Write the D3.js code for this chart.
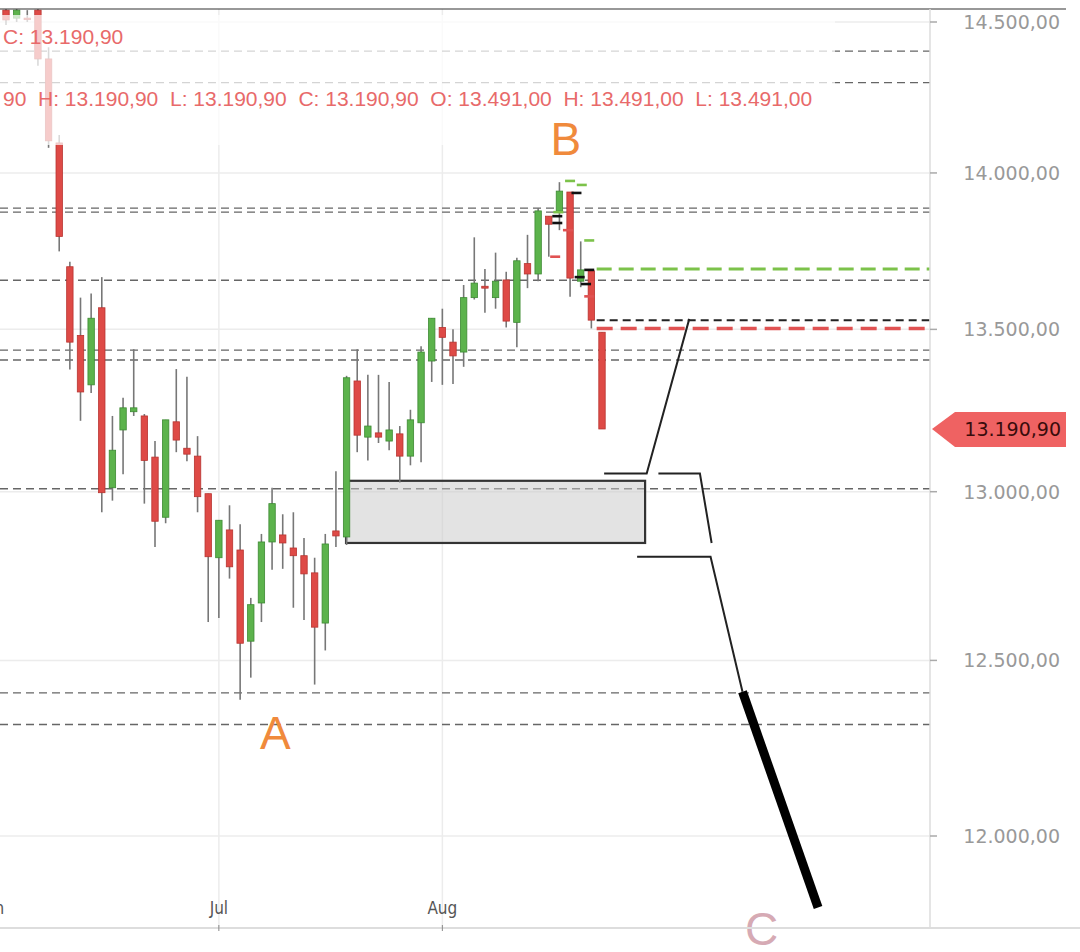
<!DOCTYPE html>
<html><head><meta charset="utf-8">
<script src="https://cdn.jsdelivr.net/npm/d3@7/dist/d3.min.js"></script>
<style>body{margin:0;background:#fff}svg{display:block}</style>
</head><body>
<svg id="c" width="1080" height="952"></svg>
<script>
// OHLC per trading day (index 0..56)
const opens  = [14540,14513,14513,14540,14376,14098,13698,13481,13327,13568,13012,13188,13244,13231,13105,12923,13213,13132,13108,12994,12802,12885,12825,12556,12668,12849,12870,12831,12808,12757,12609,12882,12864,13339,13166,13179,13154,13176,13108,13210,13401,13506,13460,13429,13600,13636,13600,13656,13522,13708,13675,13860,13877,13938,13652,13685,13491];
const highs  = [14560,14555,14540,14555,14415,14124,13714,13600,13613,13665,13231,13287,13438,13237,13154,13219,13376,13352,13169,12994,12914,12959,12902,12683,12873,13012,12932,12938,12861,12802,12873,13062,13355,13438,13358,13358,13336,13200,13250,13447,13535,13565,13500,13640,13792,13691,13743,13682,13727,13800,13886,13860,13970,13938,13779,13685,13491];
const lows   = [14490,14500,14500,14353,14082,13747,13375,13216,13302,12938,12973,13053,13231,12964,12834,12905,13120,13092,12938,12612,12624,12740,12386,12450,12612,12766,12769,12654,12618,12430,12529,12834,12840,13120,13095,13148,13126,13028,13080,13089,13336,13327,13330,13383,13594,13552,13565,13506,13444,13630,13652,13730,13815,13603,13633,13503,13191];
const closes = [14507,14540,14510,14376,14105,13795,13460,13305,13535,12997,13126,13256,13256,13095,12911,13219,13157,13114,12985,12805,12914,12775,12550,12663,12849,12964,12846,12808,12754,12597,12843,12867,13349,13172,13200,13166,13188,13108,13219,13429,13535,13475,13417,13600,13646,13630,13652,13526,13717,13675,13877,13834,13941,13662,13688,13529,13191];
const monthTicks = [{label:"Jun", i:-1.3},{label:"Jul", i:20},{label:"Aug", i:41}];
const priceTicks = [14500,14000,13500,13000,12500,12000];
const grayLevels = [14402,14297,13886,13873,13655,13435,13404,13009,12406,12315];
const colorLevels = [{p:13691,c:"#7cc24a",w:3,d:"15,7"},{p:13529,c:"#222",w:2,d:"8,5"},{p:13503,c:"#e05252",w:3.5,d:"16,8"}];
const markers = [
 {i:53.0,p:13974,c:"#7cc24a"},{i:54.1,p:13961,c:"#7cc24a"},{i:53.6,p:13935,c:"#111"},
 {i:51.9,p:13873,c:"#7cc24a"},{i:51.8,p:13860,c:"#111"},{i:51.8,p:13838,c:"#111"},
 {i:52.8,p:13815,c:"#e05252"},{i:54.8,p:13782,c:"#7cc24a"},{i:51.6,p:13730,c:"#e05252"},
 {i:53.9,p:13665,c:"#111"},{i:54.5,p:13643,c:"#111"},{i:54.8,p:13604,c:"#e05252"},{i:54.8,p:13688,c:"#111"}];
const zone = {i0:31.95, i1:60.05, p0:13033, p1:12846};
const pathA = [[56.2,13055],[60.2,13055],[64.2,13533]];
const pathB = [[61.3,13055],[65.2,13055],[66.3,12846]];
const pathC = [[59.3,12805],[66.2,12805],[69.2,12409]];
const pathD = [[69.2,12409],[76.3,11802]];
const lastPrice = "13.190,90";
const legend1 = "C: 13.190,90";
const legend2 = "90  H: 13.190,90  L: 13.190,90  C: 13.190,90  O: 13.491,00  H: 13.491,00  L: 13.491,00";
const waves = [{t:"B",i:52.6,p:14060,c:"#f08a3c"},{t:"A",i:25.3,p:12244,c:"#f08a3c"},{t:"C",i:71.0,p:11700,c:"#d6aab4"}];

const svg = d3.select("#c");
const X0=0, X1=930, Y0=9, Y1=928;
const x = d3.scaleLinear().domain([0,56]).range([6,602]);
const y = d3.scaleLog().domain([12000,14500]).range([836,22]);
const font = "'Liberation Sans', Arial, sans-serif";
const afont = "'DejaVu Sans', sans-serif";
svg.append("defs").append("clipPath").attr("id","cp").append("rect").attr("x",X0).attr("y",Y0).attr("width",X1-X0).attr("height",Y1-Y0);
const g = svg.append("g").attr("clip-path","url(#cp)");
g.selectAll(".hg").data(priceTicks).join("line").attr("x1",X0).attr("x2",X1).attr("y1",d=>y(d)).attr("y2",d=>y(d)).attr("stroke","#ececec").attr("stroke-width",1.5);
g.selectAll(".vg").data(monthTicks.slice(1)).join("line").attr("x1",d=>x(d.i)).attr("x2",d=>x(d.i)).attr("y1",Y0).attr("y2",Y1).attr("stroke","#ececec").attr("stroke-width",1.5);
g.selectAll(".gl").data(grayLevels).join("line").attr("x1",X0).attr("x2",X1).attr("y1",d=>y(d)).attr("y2",d=>y(d)).attr("stroke","#666").attr("stroke-width",1.4).attr("stroke-dasharray","8,5");
g.append("rect").attr("x",x(zone.i0)).attr("y",y(zone.p0)).attr("width",x(zone.i1)-x(zone.i0)).attr("height",y(zone.p1)-y(zone.p0)).attr("fill","rgba(200,200,200,0.5)").attr("stroke","#333").attr("stroke-width",2.2);
const idx = d3.range(opens.length);
g.selectAll(".wk").data(idx).join("line").attr("x1",i=>x(i)).attr("x2",i=>x(i)).attr("y1",i=>y(highs[i])).attr("y2",i=>y(lows[i])).attr("stroke","#777").attr("stroke-width",1.6);
g.selectAll(".bd").data(idx).join("rect")
 .attr("x",i=>x(i)-3.2).attr("width",6.4)
 .attr("y",i=>y(Math.max(opens[i],closes[i])))
 .attr("height",i=>Math.max(1.5,Math.abs(y(opens[i])-y(closes[i]))))
 .attr("fill",i=>closes[i]>=opens[i]?"#5cb34c":"#de4a46")
 .attr("stroke",i=>closes[i]>=opens[i]?"#3d8a33":"#b83430").attr("stroke-width",0.8);
g.selectAll(".cl").data(colorLevels).join("line").attr("x1",x(55.5)).attr("x2",X1).attr("y1",d=>y(d.p)).attr("y2",d=>y(d.p)).attr("stroke",d=>d.c).attr("stroke-width",d=>d.w).attr("stroke-dasharray",d=>d.d);
g.selectAll(".mk").data(markers).join("line").attr("x1",d=>x(d.i)-5).attr("x2",d=>x(d.i)+5).attr("y1",d=>y(d.p)).attr("y2",d=>y(d.p)).attr("stroke",d=>d.c).attr("stroke-width",2.6);
const ln = d3.line().x(d=>x(d[0])).y(d=>y(d[1]));
[pathA,pathB,pathC].forEach(p=>g.append("path").attr("d",ln(p)).attr("fill","none").attr("stroke","#222").attr("stroke-width",2));
svg.append("path").attr("d",ln(pathD)).attr("fill","none").attr("stroke","#000").attr("stroke-width",9);
svg.append("rect").attr("x",0).attr("y",15).attr("width",835).attr("height",130).attr("fill","#fff").attr("opacity",0.72);
svg.append("text").attr("x",3).attr("y",44).attr("font-family",font).attr("font-size",21).attr("fill","#e86a6a").text(legend1);
svg.append("text").attr("x",3).attr("y",106).attr("font-family",font).attr("font-size",21).attr("fill","#e86a6a").style("white-space","pre").text(legend2);
svg.selectAll(".wv").data(waves).join("text").attr("x",d=>x(d.i)).attr("y",d=>y(d.p)).attr("text-anchor","middle").attr("font-family",font).attr("font-size",46).attr("fill",d=>d.c).text(d=>d.t);
svg.append("line").attr("x1",0).attr("x2",1066).attr("y1",Y0).attr("y2",Y0).attr("stroke","#333").attr("stroke-width",1.2);
svg.append("line").attr("x1",X1).attr("x2",X1).attr("y1",Y0).attr("y2",Y1).attr("stroke","#ddd").attr("stroke-width",1.5);
svg.append("line").attr("x1",0).attr("x2",1080).attr("y1",Y1).attr("y2",Y1).attr("stroke","#ddd").attr("stroke-width",2);
const fmt = v=>d3.format(",.2f")(v).replace(/,/g,"#").replace(".",",").replace(/#/g,".");
svg.selectAll(".yt").data(priceTicks).join("line").attr("x1",X1).attr("x2",X1+7).attr("y1",d=>y(d)).attr("y2",d=>y(d)).attr("stroke","#aaa").attr("stroke-width",1.5);
svg.selectAll(".yl").data(priceTicks).join("text").attr("x",1060).attr("y",d=>y(d)+7).attr("text-anchor","end").attr("font-family",afont).attr("font-size",19).attr("fill","#999").text(fmt);
svg.selectAll(".xt").data(monthTicks).join("line").attr("x1",d=>x(d.i)).attr("x2",d=>x(d.i)).attr("y1",Y1-3).attr("y2",Y1+3).attr("stroke","#888");
svg.selectAll(".xl").data(monthTicks).join("text").attr("x",d=>x(d.i)).attr("y",914).attr("text-anchor","middle").attr("font-family","'DejaVu Sans Condensed','Liberation Sans Narrow',sans-serif").attr("font-size",17).attr("fill","#555").text(d=>d.label);
const ty = y(closes[56]);
svg.append("path").attr("d",`M932,${ty} L955,${ty-17} L1066,${ty-17} L1066,${ty+18} L955,${ty+18} Z`).attr("fill","#ef6262");
svg.append("text").attr("x",1061).attr("y",ty+7).attr("text-anchor","end").attr("font-family",afont).attr("font-size",19).attr("fill","#3a0c0c").text(lastPrice);
</script>
</body></html>
